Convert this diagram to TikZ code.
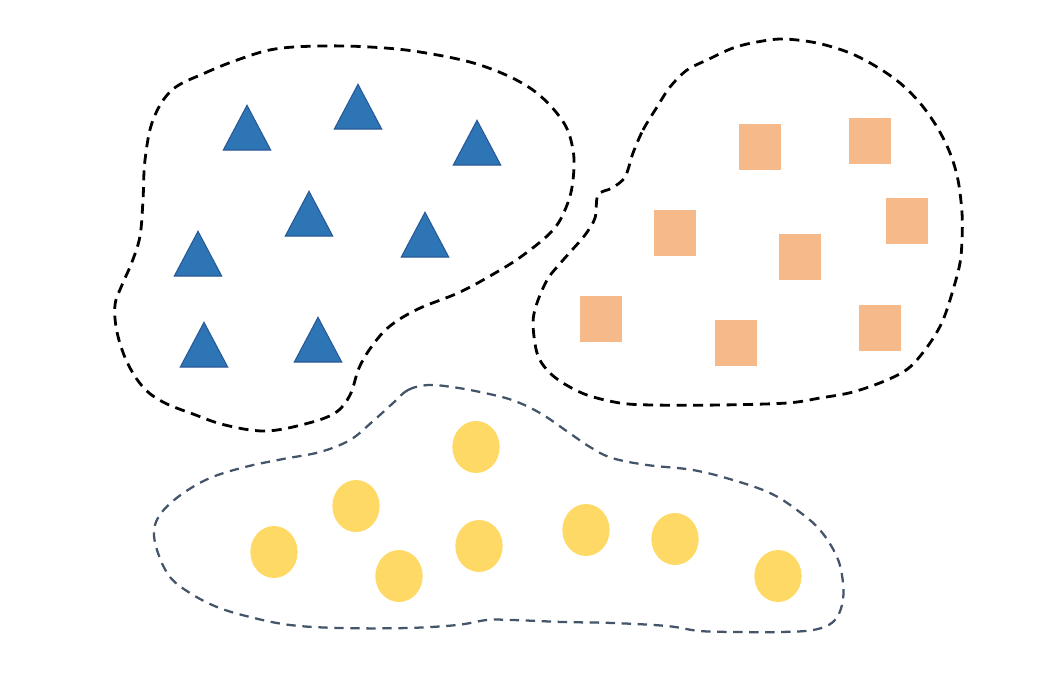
\documentclass[tikz,border=0pt]{standalone}
\usepackage{tikz}
\usetikzlibrary{shapes.geometric}
\definecolor{triblue}{RGB}{46,117,182}
\definecolor{triedge}{RGB}{40,88,150}
\definecolor{peach}{RGB}{246,185,138}
\definecolor{gold}{RGB}{255,217,102}
\definecolor{slate}{RGB}{68,84,106}

\begin{document}
\begin{tikzpicture}[x=0.75pt, y=-0.75pt,
  tri/.style={isosceles triangle, shape border rotate=90, isosceles triangle stretches,
    draw=triedge, fill=triblue, line width=0.8pt, minimum width=35.5pt, minimum height=33.5pt,
    inner sep=0pt, outer sep=0pt, anchor=lower side},
  sq/.style={fill=peach, minimum width=32pt, minimum height=34.5pt, inner sep=0pt},
  dot/.style={ellipse, fill=gold, minimum width=35.5pt, minimum height=39pt, inner sep=0pt},
  hull/.style={dash pattern=on 7.5pt off 5pt, line width=2.1pt},
]
  \useasboundingbox (0,0) rectangle (1062,676);

  % --- triangles ---
  \node[tri] (t1) at (247,150) {};
  \node[tri] (t2) at (358,129) {};
  \node[tri] (t3) at (477,165) {};
  \node[tri] (t4) at (309,236) {};
  \node[tri] (t5) at (425,257) {};
  \node[tri] (t6) at (198,276) {};
  \node[tri] (t7) at (204,367) {};
  \node[tri] (t8) at (318,362) {};
  \draw[hull, black] plot[smooth cycle, tension=0.6] coordinates {
    (172,90) (205,73) (240,59) (275,49) (320,46) (370,47) (420,52) (480,65)
    (530,88) (562,120) (573,150) (573,180) (567,205) (553,230) (522,256)
    (490,276) (458,293) (418,309) (390,326) (372,346) (359,368) (350,395)
    (335,413) (305,424) (265,431) (225,425) (193,414) (163,402)
    (143,387) (127,362) (117,332) (115,305) (122,285) (132,262) (140,236)
    (143,200) (145,160) (153,120)};

  % --- squares ---
  \node[sq] (s1) at (760,147) {};
  \node[sq] (s2) at (870,141) {};
  \node[sq] (s3) at (675,233) {};
  \node[sq] (s4) at (800,257) {};
  \node[sq] (s5) at (601,319) {};
  \node[sq] (s6) at (736,343) {};
  \node[sq] (s7) at (880,328) {};
  \node[sq] (s8) at (907,221) {};
  \draw[hull, black] plot[smooth cycle, tension=0.55] coordinates {
    (633,153) (643,130) (657,107) (670,87) (687,70) (707,60) (733,48)
    (757,42) (783,39) (817,43) (850,53) (877,67) (900,83) (920,103)
    (937,127) (950,153) (958,180) (962,213) (962,240) (960,263) (953,290)
    (943,320) (930,343) (910,367) (887,380) (853,392) (820,398) (787,403)
    (720,405) (653,405) (620,403) (587,395) (563,383) (547,370) (537,353)
    (533,323) (537,303) (547,280) (557,267) (572,250) (585,235) (595,218)
    (598,195) (612,188) (625,177)};

  % --- dots ---
  \node[dot] (c1) at (476,447) {};
  \node[dot] (c2) at (356,506) {};
  \node[dot] (c3) at (274,552) {};
  \node[dot] (c4) at (399,576) {};
  \node[dot] (c5) at (479,546) {};
  \node[dot] (c6) at (586,530) {};
  \node[dot] (c7) at (675,539) {};
  \node[dot] (c8) at (778,576) {};
  \draw[hull, slate, line width=1.7pt, dash pattern=on 7pt off 5pt] plot[smooth cycle, tension=0.6] coordinates {
    (428,385) (408,390) (392,404) (372,422) (350,440) (320,452) (283,459)
    (245,467) (210,478) (182,494) (162,512) (154,530) (158,553) (170,577)
    (190,593) (217,607) (250,617) (290,625) (340,628) (407,628) (457,625)
    (487,620) (513,620) (563,622) (613,623) (667,626) (700,631) (740,632)
    (780,632) (813,630) (833,622) (842,605) (843,583) (837,557) (820,530)
    (797,510) (770,493) (733,480) (693,470) (647,465) (612,458) (590,447)
    (568,432) (540,413) (512,400) (480,392) (452,387)};
\end{tikzpicture}
\end{document}
